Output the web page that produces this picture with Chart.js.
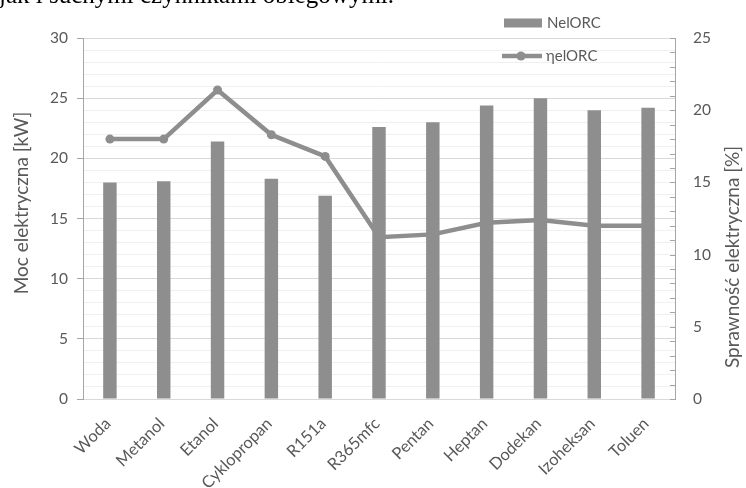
<!DOCTYPE html>
<html>
<head>
<meta charset="utf-8">
<script src="https://cdn.jsdelivr.net/npm/chart.js@4.4.1/dist/chart.umd.min.js"></script>
<style>
  html, body { margin: 0; padding: 0; background: #fff; overflow: hidden; }
  #wrap { position: relative; width: 746px; height: 488px; overflow: hidden; }
  #caption { position: absolute; left: -1px; top: -19px; font: 25px "Liberation Serif", serif; color: #000; white-space: nowrap; }
  canvas { position: absolute; left: 0; top: 0; }
</style>
</head>
<body>
<div id="wrap">
  <canvas id="c" width="746" height="488"></canvas>
  <div id="caption">jak i suchymi czynnikami obiegowymi.</div>
</div>
<script>
// Working fluids compared in the ORC cycle
const categories = ['Woda', 'Metanol', 'Etanol', 'Cyklopropan', 'R151a', 'R365mfc', 'Pentan', 'Heptan', 'Dodekan', 'Izoheksan', 'Toluen'];
// Electric power of the ORC unit [kW]
const powerKW = [18.0, 18.1, 21.4, 18.3, 16.9, 22.6, 23.0, 24.4, 25.0, 24.0, 24.2];
// Electric efficiency of the ORC unit [%]
const efficiencyPct = [18.0, 18.0, 21.4, 18.3, 16.8, 11.2, 11.4, 12.2, 12.4, 12.0, 12.0];
// Axis ranges and labelled tick spacing
const powerRange = [0, 30];
const efficiencyRange = [0, 25];
const labelledStep = 5;
const minorStep = 1;

const TEXT = '#595959';
const GREY = '#8e8e8e';
const AXIS = '#a6a6a6';
const FONT = 'Lato';

// Legend stacked in the upper right, as in the spreadsheet layout
const stackedLegend = {
  id: 'stackedLegend',
  afterDraw(chart) {
    const ctx = chart.ctx;
    const bar = chart.data.datasets[1];
    const line = chart.data.datasets[0];
    ctx.save();
    ctx.font = '15px ' + FONT;
    ctx.fillStyle = TEXT;
    ctx.textBaseline = 'middle';
    // bar entry
    ctx.fillStyle = bar.backgroundColor;
    ctx.fillRect(504, 18.5, 38, 9);
    ctx.fillStyle = TEXT;
    ctx.fillText(bar.label, 547, 23);
    // line entry
    ctx.strokeStyle = line.borderColor;
    ctx.lineWidth = 4.5;
    ctx.beginPath();
    ctx.moveTo(502, 56);
    ctx.lineTo(542, 56);
    ctx.stroke();
    ctx.fillStyle = line.pointBackgroundColor;
    ctx.beginPath();
    ctx.arc(521, 56, 4.5, 0, Math.PI * 2);
    ctx.fill();
    ctx.fillStyle = TEXT;
    ctx.fillText(line.label, 546, 56);
    ctx.restore();
  }
};

// Inward tick marks on the secondary axis and both axis titles
const axisDecor = {
  id: 'axisDecor',
  afterDraw(chart) {
    const ctx = chart.ctx;
    const s = chart.scales.y1;
    const area = chart.chartArea;
    ctx.save();
    ctx.strokeStyle = AXIS;
    ctx.lineWidth = 1;
    s.ticks.forEach(t => {
      const py = Math.round(s.getPixelForValue(t.value)) + 0.5;
      ctx.beginPath();
      ctx.moveTo(area.right - 5, py);
      ctx.lineTo(area.right, py);
      ctx.stroke();
    });
    ctx.restore();

    const title = (text, x, y) => {
      ctx.save();
      ctx.fillStyle = TEXT;
      ctx.font = '19px ' + FONT;
      ctx.textAlign = 'center';
      ctx.textBaseline = 'middle';
      ctx.translate(x, y);
      ctx.rotate(-Math.PI / 2);
      ctx.fillText(text, 0, 0);
      ctx.restore();
    };
    title('Moc elektryczna [kW]', 22, 203);
    title('Sprawność elektryczna [%]', 733, 257);
  }
};

const isLabelled = v => Math.abs(v % labelledStep) < 1e-9;

new Chart(document.getElementById('c'), {
  data: {
    labels: categories,
    datasets: [
      {
        type: 'line',
        label: 'ηelORC',
        data: efficiencyPct,
        yAxisID: 'y1',
        order: 0,
        borderColor: GREY,
        borderWidth: 4.5,
        pointRadius: 4.5,
        pointBackgroundColor: GREY,
        pointBorderWidth: 0,
        tension: 0
      },
      {
        type: 'bar',
        label: 'NelORC',
        data: powerKW,
        yAxisID: 'y',
        order: 1,
        backgroundColor: GREY,
        barPercentage: 0.25,
        categoryPercentage: 1
      }
    ]
  },
  options: {
    responsive: false,
    animation: false,
    layout: { padding: { top: 38, left: 0, right: 0, bottom: 0 } },
    plugins: { legend: { display: false }, tooltip: { enabled: false } },
    scales: {
      x: {
        grid: { drawOnChartArea: false, drawTicks: false },
        border: { display: true, color: '#d9d9d9' },
        ticks: {
          color: TEXT,
          font: { family: FONT, size: 16.5 },
          minRotation: 45,
          maxRotation: 45,
          padding: 15,
          labelOffset: -2,
          autoSkip: false
        },
        afterFit: s => { s.height = 89; }
      },
      y: {
        position: 'left',
        min: powerRange[0],
        max: powerRange[1],
        grid: {
          color: c => isLabelled(c.tick.value) ? '#d9d9d9' : '#f0f0f0',
          tickColor: c => isLabelled(c.tick.value) ? AXIS : 'rgba(0,0,0,0)',
          tickLength: 6
        },
        border: { display: true, color: AXIS },
        ticks: {
          stepSize: minorStep,
          autoSkip: false,
          color: TEXT,
          font: { family: FONT, size: 15.5 },
          padding: 9,
          callback: v => isLabelled(v) ? v : ''
        },
        afterFit: s => { s.width = 83; }
      },
      y1: {
        position: 'right',
        min: efficiencyRange[0],
        max: efficiencyRange[1],
        grid: { drawOnChartArea: false, drawTicks: false },
        border: { display: true, color: AXIS },
        ticks: {
          stepSize: minorStep,
          autoSkip: false,
          color: TEXT,
          font: { family: FONT, size: 15.5 },
          padding: 18,
          callback: v => isLabelled(v) ? v : ''
        },
        afterFit: s => { s.width = 71; }
      }
    }
  },
  plugins: [stackedLegend, axisDecor]
});
</script>
</body>
</html>
